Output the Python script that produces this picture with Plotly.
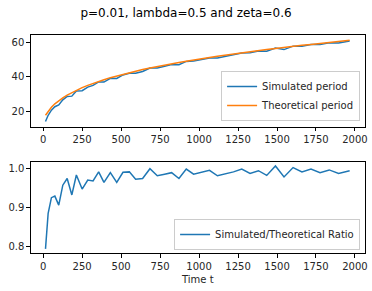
import plotly.graph_objects as go

time_t = [15, 32, 53, 75, 100, 126, 154, 184, 213, 250, 286, 320, 356, 390, 431,
          472, 512, 553, 593, 638, 685, 732, 779, 824, 871, 918, 965, 1016, 1067,
          1118, 1170, 1221, 1274, 1327, 1381, 1434, 1490, 1545, 1603, 1660, 1718,
          1776, 1835, 1895, 1966]
theoretical = [17.5, 19.8, 22.2, 24.2, 26.0, 27.7, 29.3, 30.8, 32.2, 33.7, 35.0,
               36.2, 37.3, 38.3, 39.5, 40.5, 41.5, 42.4, 43.3, 44.2, 45.1, 46.0,
               46.9, 47.6, 48.4, 49.1, 49.9, 50.6, 51.3, 52.0, 52.7, 53.4, 54.0,
               54.7, 55.3, 55.9, 56.5, 57.2, 57.8, 58.4, 58.9, 59.5, 60.1, 60.6, 61.3]
simulated = [13.9, 17.5, 20.5, 22.5, 23.6, 26.5, 28.5, 28.7, 31.7, 31.9, 34.0,
             35.0, 37.0, 36.9, 39.1, 39.0, 41.1, 42.0, 42.1, 43.1, 45.1, 45.1,
             46.2, 47.1, 47.1, 49.0, 49.2, 50.1, 51.0, 51.0, 52.0, 52.9, 53.9,
             54.0, 55.0, 54.9, 56.8, 55.9, 57.9, 57.9, 58.8, 58.8, 59.9, 59.8, 60.9]
ratio = [0.794, 0.885, 0.925, 0.929, 0.906, 0.957, 0.974, 0.932, 0.983, 0.947,
         0.970, 0.968, 0.991, 0.964, 0.989, 0.964, 0.990, 0.991, 0.972, 0.974,
         0.999, 0.981, 0.985, 0.989, 0.974, 0.998, 0.985, 0.990, 0.995, 0.981,
         0.986, 0.991, 0.998, 0.987, 0.994, 0.982, 1.006, 0.978, 1.002, 0.991,
         0.998, 0.989, 0.996, 0.987, 0.994]

x_ticks = [0, 250, 500, 750, 1000, 1250, 1500, 1750, 2000]
blue = "#1f77b4"
orange = "#ff7f0e"
font = dict(family="DejaVu Sans", size=10, color="#262626")

fig = go.Figure()
fig.add_trace(go.Scatter(x=time_t, y=simulated, mode="lines", name="Simulated period",
                         line=dict(color=blue, width=1.5), xaxis="x", yaxis="y", legend="legend"))
fig.add_trace(go.Scatter(x=time_t, y=theoretical, mode="lines", name="Theoretical period",
                         line=dict(color=orange, width=1.5), xaxis="x", yaxis="y", legend="legend"))
fig.add_trace(go.Scatter(x=time_t, y=ratio, mode="lines", name="Simulated/Theoretical Ratio",
                         line=dict(color=blue, width=1.5), xaxis="x2", yaxis="y2", legend="legend2"))

axis_common = dict(showline=True, linecolor="black", linewidth=0.8, mirror=True,
                   ticks="outside", ticklen=3.5, tickwidth=0.8, tickcolor="black",
                   showgrid=False, zeroline=False, tickfont=font, automargin=False)

fig.update_layout(
    width=372, height=291,
    margin=dict(l=0, r=0, t=0, b=0, autoexpand=False),
    paper_bgcolor="white", plot_bgcolor="white",
    font=font,
    title=dict(text="p=0.01, lambda=0.5 and zeta=0.6", x=0.5, xanchor="center",
               y=1 - 13 / 291, yanchor="middle", font=dict(family="DejaVu Sans", size=12, color="black")),
    xaxis=dict(domain=[0.0825, 0.981], range=[-80, 2064], tickvals=x_ticks, anchor="y", **axis_common),
    yaxis=dict(domain=[0.565, 0.879], range=[10.9, 64.3], tickvals=[20, 40, 60], anchor="x", **axis_common),
    xaxis2=dict(domain=[0.0825, 0.981], range=[-80, 2064], tickvals=x_ticks, anchor="y2", **axis_common),
    yaxis2=dict(domain=[0.130, 0.442], range=[0.783, 1.0153], tickvals=[0.8, 0.9, 1.0],
                tickformat=".1f", anchor="x2", **axis_common),
    legend=dict(x=0.968, xanchor="right", y=1 - 121 / 291, yanchor="bottom",
                bordercolor="#cccccc", borderwidth=1, bgcolor="rgba(255,255,255,0.8)",
                font=font, tracegroupgap=0, itemwidth=30),
    legend2=dict(x=0.968, xanchor="right", y=1 - 250 / 291, yanchor="bottom",
                 bordercolor="#cccccc", borderwidth=1, bgcolor="rgba(255,255,255,0.8)",
                 font=font, itemwidth=30),
    showlegend=True,
    annotations=[dict(text="Time t", xref="paper", yref="paper", x=(0.0825 + 0.981) / 2,
                      y=1 - 279 / 291, xanchor="center", yanchor="middle", showarrow=False,
                      font=font)],
)

fig.write_html("out.html", config={"displayModeBar": False},
               post_script="document.body.style.margin='0';document.body.style.overflow='hidden';")
